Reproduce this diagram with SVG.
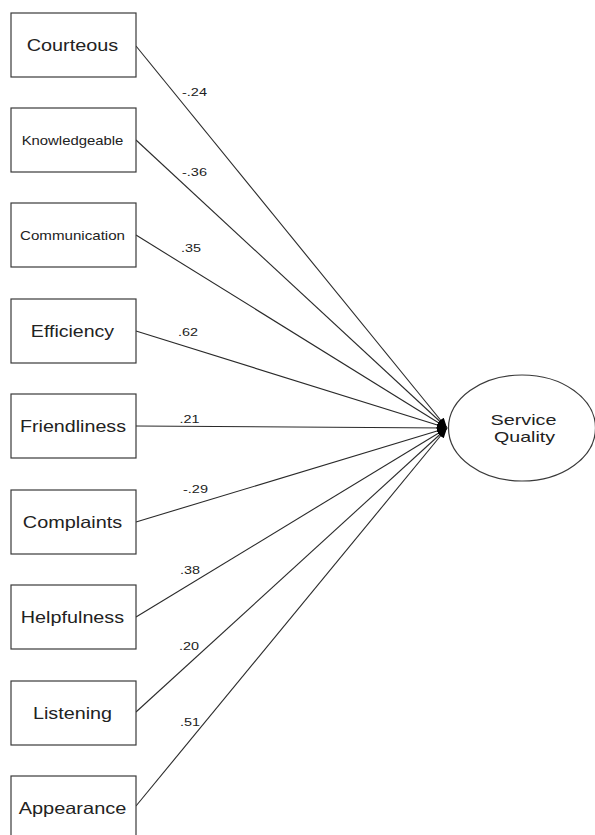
<svg xmlns="http://www.w3.org/2000/svg" width="595" height="835" viewBox="0 0 595 835">
<style>
.box{fill:#fff;stroke:#3a3a3a;stroke-width:1.2}
.lbl{font-family:"Liberation Sans",Arial,sans-serif;font-size:16.5px;fill:#222;text-anchor:middle}
.sm{font-size:12.8px}
.sq{font-size:15px}
.el{font-family:"Liberation Sans",Arial,sans-serif;font-size:11px;fill:#222;text-anchor:middle}
.conn{stroke:#2a2a2a;stroke-width:1.1;fill:none;marker-end:url(#ah)}
</style>
<defs>
<marker id="ah" viewBox="0 0 10 8" refX="10" refY="4" markerWidth="10" markerHeight="8" markerUnits="userSpaceOnUse" orient="auto">
<path d="M0,0 L10,4 L0,8 z" fill="#000"/>
</marker>
</defs>
<rect width="595" height="835" fill="#fff"/>
<g id="connectors">
<line class="conn" x1="136" y1="46" x2="447" y2="428"/>
<line class="conn" x1="136" y1="140" x2="447" y2="428"/>
<line class="conn" x1="136" y1="235" x2="447" y2="428"/>
<line class="conn" x1="136" y1="331" x2="447" y2="428"/>
<line class="conn" x1="136" y1="426" x2="447" y2="428"/>
<line class="conn" x1="136" y1="522" x2="447" y2="428"/>
<line class="conn" x1="136" y1="617" x2="447" y2="428"/>
<line class="conn" x1="136" y1="712" x2="447" y2="428"/>
<line class="conn" x1="136" y1="806" x2="447" y2="428"/>
<text class="el" x="194.5" y="96" textLength="25" lengthAdjust="spacingAndGlyphs">-.24</text>
<text class="el" x="194.5" y="176" textLength="25" lengthAdjust="spacingAndGlyphs">-.36</text>
<text class="el" x="191" y="252" textLength="20" lengthAdjust="spacingAndGlyphs">.35</text>
<text class="el" x="188" y="336" textLength="20" lengthAdjust="spacingAndGlyphs">.62</text>
<text class="el" x="189.5" y="423" textLength="20" lengthAdjust="spacingAndGlyphs">.21</text>
<text class="el" x="195.5" y="493" textLength="25" lengthAdjust="spacingAndGlyphs">-.29</text>
<text class="el" x="190" y="574" textLength="20" lengthAdjust="spacingAndGlyphs">.38</text>
<text class="el" x="189" y="650" textLength="20" lengthAdjust="spacingAndGlyphs">.20</text>
<text class="el" x="190" y="726" textLength="20" lengthAdjust="spacingAndGlyphs">.51</text>
</g>
<g id="courteous"><rect class="box" x="11" y="13" width="125" height="64"/><text class="lbl" x="72.5" y="51" textLength="91.6" lengthAdjust="spacingAndGlyphs">Courteous</text></g>
<g id="knowledgeable"><rect class="box" x="11" y="108" width="125" height="64"/><text class="lbl sm" x="72.5" y="144.5" textLength="101.7" lengthAdjust="spacingAndGlyphs">Knowledgeable</text></g>
<g id="communication"><rect class="box" x="11" y="203" width="125" height="64"/><text class="lbl sm" x="72.5" y="239.5" textLength="105" lengthAdjust="spacingAndGlyphs">Communication</text></g>
<g id="efficiency"><rect class="box" x="11" y="299" width="125" height="64"/><text class="lbl" x="72.5" y="337" textLength="83.3" lengthAdjust="spacingAndGlyphs">Efficiency</text></g>
<g id="friendliness"><rect class="box" x="11" y="394" width="125" height="64"/><text class="lbl" x="73" y="432" textLength="106" lengthAdjust="spacingAndGlyphs">Friendliness</text></g>
<g id="complaints"><rect class="box" x="11" y="490" width="125" height="64"/><text class="lbl" x="72.5" y="528" textLength="99.3" lengthAdjust="spacingAndGlyphs">Complaints</text></g>
<g id="helpfulness"><rect class="box" x="11" y="585" width="125" height="64"/><text class="lbl" x="72.5" y="623" textLength="103.3" lengthAdjust="spacingAndGlyphs">Helpfulness</text></g>
<g id="listening"><rect class="box" x="11" y="681" width="125" height="64"/><text class="lbl" x="72.5" y="719" textLength="79" lengthAdjust="spacingAndGlyphs">Listening</text></g>
<g id="appearance"><rect class="box" x="11" y="776" width="125" height="64"/><text class="lbl" x="72.5" y="814" textLength="107.7" lengthAdjust="spacingAndGlyphs">Appearance</text></g>
<g id="service-quality"><ellipse class="box" cx="522" cy="428" rx="73.5" ry="53"/><text class="lbl sq" x="523.5" y="425" textLength="66" lengthAdjust="spacingAndGlyphs">Service</text><text class="lbl sq" x="524.5" y="442" textLength="61" lengthAdjust="spacingAndGlyphs">Quality</text></g>
</svg>
